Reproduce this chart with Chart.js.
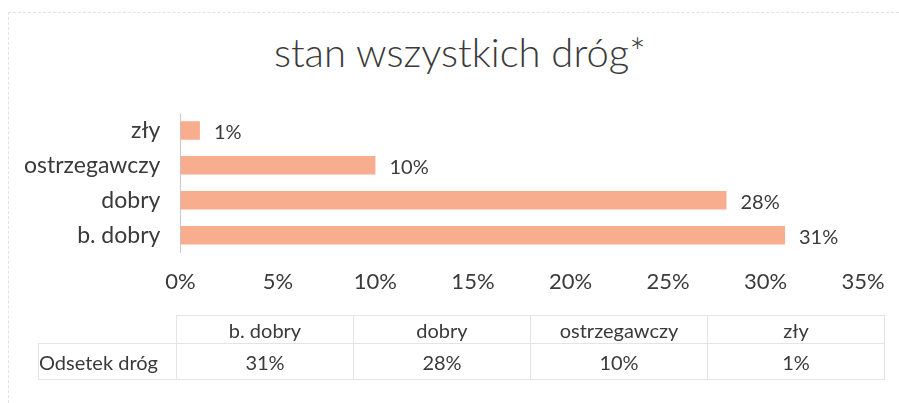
<!DOCTYPE html>
<html lang="pl">
<head>
  <meta charset="UTF-8" />
  <title>stan wszystkich dróg</title>
  <script src="https://cdn.jsdelivr.net/npm/chart.js"></script>
  <style>
    body {
      margin: 0;
      background: #fff;
      font-family: Lato, "Open Sans", sans-serif;
      color: #3a3a3a;
    }
    .wrap {
      position: relative;
      width: 899px;
      height: 403px;
    }
    .frame {
      position: absolute;
      left: 8px;
      top: 12px;
      width: 890px;
      height: 400px;
      border-left: 1px dashed #e2e2e2;
      border-top: 1px dashed #e2e2e2;
    }
    .title {
      position: absolute;
      left: 20px;
      width: 880px;
      top: 28px;
      text-align: center;
      font-size: 40px;
      font-weight: 300;
      line-height: 48px;
      color: #3a3a3a;
    }
    canvas {
      position: absolute;
      left: 0;
      top: 0;
    }
    table {
      position: absolute;
      left: 38px;
      top: 315px;
      border-collapse: collapse;
      font-size: 20px;
      color: #3a3a3a;
    }
    td {
      border: 1px solid #e4e4e4;
      text-align: center;
      padding: 0;
      width: 176px;
    }
    tr.head td { height: 27px; }
    tr.vals td { height: 35px; }
    td.blank { border: none; border-bottom: 1px solid #e4e4e4; }
    td.label { width: 137px; text-align: left; padding-left: 0; }
  </style>
</head>
<body>
  <div class="wrap">
    <div class="frame"></div>
    <div class="title" id="title"></div>
    <canvas id="chart" width="899" height="403"></canvas>
    <table id="dataTable">
      <tr class="head"><td class="blank label"></td></tr>
      <tr class="vals"><td class="label" id="rowLabel"></td></tr>
    </table>
  </div>

  <script>
    const chartTitle = "stan wszystkich dróg*";
    const categories = ["b. dobry", "dobry", "ostrzegawczy", "zły"];
    const shares = [31, 28, 10, 1];
    const seriesName = "Odsetek dróg";
    const tickValues = [0, 5, 10, 15, 20, 25, 30, 35];

    const textColor = "#3a3a3a";
    const barColor = "#f7ad8e";
    const fontFamily = "Lato, 'Open Sans', sans-serif";

    document.getElementById("title").textContent = chartTitle;

    // data table under the chart
    const headRow = document.querySelector("#dataTable tr.head");
    const valRow = document.querySelector("#dataTable tr.vals");
    document.getElementById("rowLabel").textContent = seriesName;
    categories.forEach((c, i) => {
      const th = document.createElement("td");
      th.textContent = c;
      headRow.appendChild(th);
      const td = document.createElement("td");
      td.textContent = shares[i] + "%";
      valRow.appendChild(td);
    });

    // value labels right of each bar
    const barLabels = {
      id: "barLabels",
      afterDatasetsDraw(chart) {
        const ctx = chart.ctx;
        const meta = chart.getDatasetMeta(0);
        ctx.save();
        ctx.font = "20px " + fontFamily;
        ctx.fillStyle = textColor;
        ctx.textAlign = "left";
        ctx.textBaseline = "middle";
        meta.data.forEach((bar, i) => {
          ctx.fillText(shares[i] + "%", bar.x + 14, bar.y + 2);
        });
        ctx.restore();
      }
    };

    new Chart(document.getElementById("chart"), {
      type: "bar",
      data: {
        labels: categories,
        datasets: [{
          label: seriesName,
          data: shares,
          backgroundColor: barColor,
          categoryPercentage: 1,
          barPercentage: 0.53
        }]
      },
      options: {
        indexAxis: "y",
        responsive: false,
        animation: false,
        layout: {
          padding: { left: 12, right: 36, top: 113, bottom: 100 }
        },
        plugins: {
          legend: { display: false },
          tooltip: { enabled: false },
          title: { display: false }
        },
        scales: {
          x: {
            min: 0,
            max: 35,
            afterBuildTicks: axis => {
              axis.ticks = tickValues.map(v => ({ value: v }));
            },
            grid: { display: false },
            border: { display: false },
            ticks: {
              color: textColor,
              padding: 8,
              font: { family: fontFamily, size: 22 },
              callback: v => v + "%"
            }
          },
          y: {
            reverse: true,
            grid: { display: false },
            border: { display: true, color: "#c8c8d4", width: 1 },
            ticks: {
              color: textColor,
              padding: 12,
              autoSkip: false,
              font: { family: fontFamily, size: 23 }
            }
          }
        }
      },
      plugins: [barLabels]
    });
  </script>
</body>
</html>
